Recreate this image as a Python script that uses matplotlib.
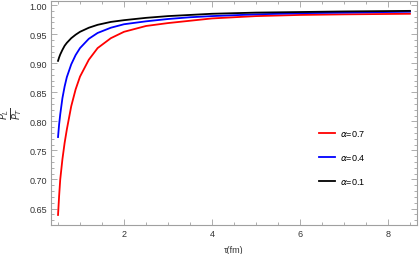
import matplotlib
matplotlib.use("Agg")
import matplotlib.pyplot as plt
from matplotlib.ticker import MultipleLocator

plt.rcParams['font.family'] = ['Liberation Sans', 'DejaVu Sans']

tau = [0.5, 0.525, 0.55, 0.6, 0.65, 0.7, 0.8, 0.9, 1.0, 1.2, 1.4, 1.7, 2.0,
       2.5, 3.0, 3.5, 4.0, 5.0, 6.0, 7.0, 8.5]

ratio_a07 = [0.639, 0.672, 0.700, 0.735, 0.763, 0.786, 0.826, 0.855, 0.877, 0.906, 0.926,
             0.943, 0.954, 0.964, 0.969, 0.973, 0.977, 0.981, 0.983, 0.984, 0.985]
ratio_a04 = [0.773, 0.795, 0.812, 0.840, 0.860, 0.876, 0.898, 0.914, 0.926, 0.942, 0.952,
             0.961, 0.967, 0.972, 0.976, 0.979, 0.981, 0.984, 0.986, 0.987, 0.9885]
ratio_a01 = [0.904, 0.910, 0.915, 0.923, 0.930, 0.935, 0.943, 0.949, 0.954, 0.961, 0.966,
             0.971, 0.974, 0.978, 0.981, 0.983, 0.985, 0.987, 0.988, 0.989, 0.990]

labels = [r'$\alpha$=0.7', r'$\alpha$=0.4', r'$\alpha$=0.1']
colors = ['#ff0000', '#0000ff', '#000000']

fig = plt.figure(figsize=(4.19, 2.55), dpi=100)
ax = fig.add_axes([0.1217, 0.1137, 0.8735, 0.8783])

for ys, lab, c in zip([ratio_a07, ratio_a04, ratio_a01], labels, colors):
    ax.plot(tau, ys, color=c, lw=1.3, label=lab)

ax.set_xlim(0.34, 8.66)
ax.set_ylim(0.6217, 1.0069)
ax.xaxis.set_major_locator(MultipleLocator(2))
ax.xaxis.set_minor_locator(MultipleLocator(0.5))
ax.yaxis.set_major_locator(MultipleLocator(0.05))
ax.yaxis.set_minor_locator(MultipleLocator(0.01))
ax.yaxis.set_major_formatter(plt.FormatStrFormatter('%.2f'))

frame_col = '#a0a0a0'
for s in ax.spines.values():
    s.set_color(frame_col)
    s.set_linewidth(0.8)
ax.tick_params(which='both', direction='in', top=True, right=True,
               color=frame_col, labelsize=6.5, labelcolor='#333333', width=0.6)
ax.tick_params(which='major', length=4, pad=3)
ax.tick_params(which='minor', length=2)

ax.set_xlabel(r'τ(fm)', fontsize=6.5, color='#333333', labelpad=5)
ax.set_ylabel(r'$\frac{P_L}{P_T}$', fontsize=10, color='#333333')
ax.yaxis.set_label_coords(-0.072, 0.5)

ax.legend(loc='center left', bbox_to_anchor=(0.71, 0.305), frameon=False,
          fontsize=6.5, handlelength=1.8, handletextpad=0.5, labelspacing=1.55)

fig.savefig('out.png', dpi=100)
